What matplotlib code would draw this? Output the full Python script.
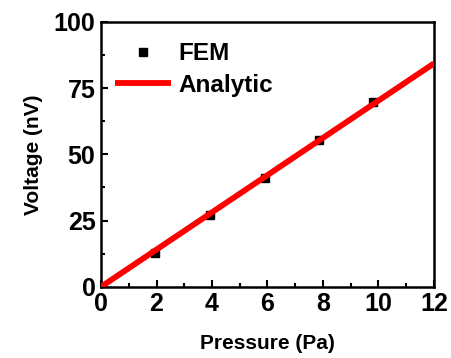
import matplotlib
matplotlib.use("Agg")
import matplotlib.pyplot as plt
import numpy as np

plt.rcParams['font.family'] = ['Liberation Sans', 'DejaVu Sans']
plt.rcParams['font.weight'] = 'bold'

fem_x = [1.95, 3.93, 5.91, 7.86, 9.81]
fem_y = [12.6, 27.0, 40.9, 55.4, 69.8]
analytic_x = [0, 12]
analytic_y = [0, 84.3]

fig = plt.figure(figsize=(4.52, 3.58), dpi=100)
ax = fig.add_axes([0.2235, 0.199, 0.7365, 0.740])

ax.plot(fem_x, fem_y, 's', color='black', markersize=6, label='FEM', zorder=2)
ax.plot(analytic_x, analytic_y, '-', color='#ff0000', linewidth=4.2, label='Analytic', zorder=3, solid_capstyle='butt')

ax.set_xlim(0, 12)
ax.set_ylim(0, 100)
ax.set_xticks([0, 2, 4, 6, 8, 10, 12])
ax.set_yticks([0, 25, 50, 75, 100])
ax.set_xticks(np.arange(1, 12, 2), minor=True)
ax.set_yticks(np.arange(12.5, 100, 25), minor=True)
ax.tick_params(axis='both', which='major', direction='in', length=5, width=1.5, labelsize=18, pad=4)
ax.tick_params(axis='both', which='minor', direction='in', length=3, width=1.5)
for lab in ax.get_xticklabels() + ax.get_yticklabels():
    lab.set_fontweight('bold')
for s in ax.spines.values():
    s.set_linewidth(1.8)

ax.set_xlabel('Pressure (Pa)', fontsize=15, fontweight='bold', labelpad=13)
ax.set_ylabel('Voltage (nV)', fontsize=15, fontweight='bold', labelpad=8)

leg = ax.legend(loc='upper left', bbox_to_anchor=(-0.01, 0.987), frameon=False,
                prop={'size': 17.5, 'weight': 'bold'}, handlelength=2.3,
                handletextpad=0.3, labelspacing=0.35, borderaxespad=0.3)

fig.savefig('out.png', dpi=100)
